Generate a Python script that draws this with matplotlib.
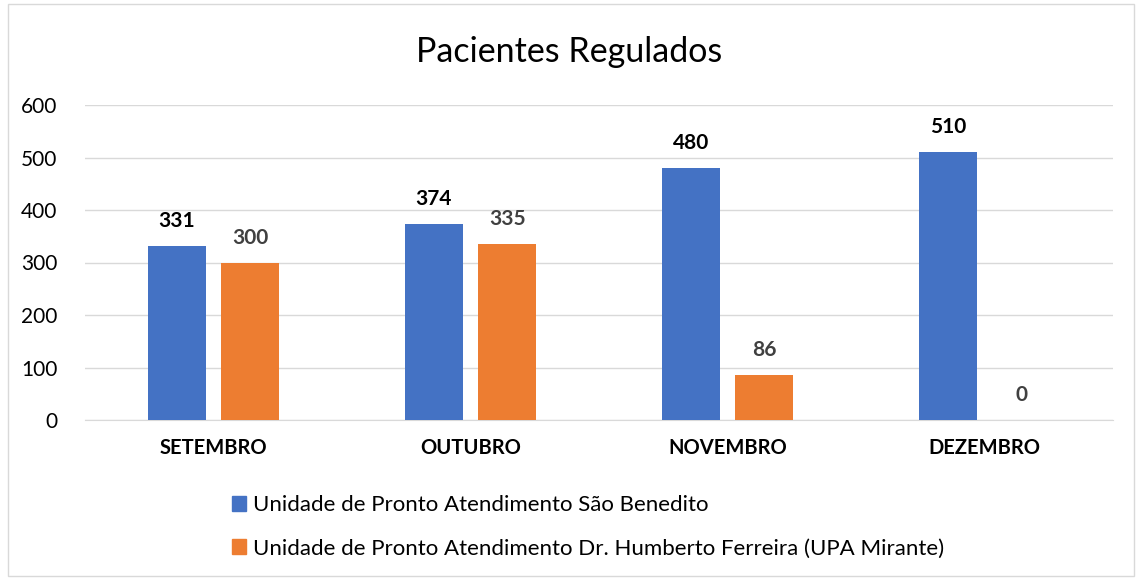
import matplotlib
matplotlib.use('Agg')
import matplotlib.pyplot as plt
import numpy as np
from matplotlib.patches import Patch, Rectangle

plt.rcParams['font.family'] = ['Lato', 'DejaVu Sans']

# 数据
meses = ['SETEMBRO', 'OUTUBRO', 'NOVEMBRO', 'DEZEMBRO']
sao_benedito = [331, 374, 480, 510]
upa_mirante = [300, 335, 86, 0]
series_nomes = ['Unidade de Pronto Atendimento São Benedito',
                'Unidade de Pronto Atendimento Dr. Humberto Ferreira (UPA Mirante)']
yticks = [0, 100, 200, 300, 400, 500, 600]

AZUL = '#4472C4'
LARANJA = '#ED7D31'

fig = plt.figure(figsize=(11.38, 5.80), dpi=100)
ax = fig.add_axes([85 / 1138, 1 - 420 / 580, 1028 / 1138, 315 / 580])

x = np.arange(len(meses))
w = 0.225
off = 0.143
b1 = ax.bar(x - off, sao_benedito, w, color=AZUL, zorder=3)
b2 = ax.bar(x + off, upa_mirante, w, color=LARANJA, zorder=3)

for rect, v in zip(b1, sao_benedito):
    ax.annotate(str(v), (rect.get_x() + rect.get_width() / 2, v), xytext=(0, 18),
                textcoords='offset points', ha='center', va='center',
                fontsize=15, fontweight='bold', color='black')
for rect, v in zip(b2, upa_mirante):
    ax.annotate(str(v), (rect.get_x() + rect.get_width() / 2, v), xytext=(0, 18),
                textcoords='offset points', ha='center', va='center',
                fontsize=15, fontweight='bold', color='#404040')

ax.set_xlim(-0.5, 3.5)
ax.set_ylim(0, 600)
ax.set_yticks(yticks)
ax.set_yticklabels([str(t) for t in yticks], fontsize=15)
ax.set_xticks(x)
ax.set_xticklabels(meses, fontsize=14.5, fontweight='bold')
ax.tick_params(axis='both', length=0)
ax.tick_params(axis='y', pad=20)
ax.tick_params(axis='x', pad=13)
ax.grid(axis='y', color='#D9D9D9', linewidth=1, zorder=0)
for s in ['top', 'right', 'left']:
    ax.spines[s].set_visible(False)
ax.spines['bottom'].set_color('#D9D9D9')

fig.text(0.5, 1 - 52 / 580, 'Pacientes Regulados', ha='center', va='center', fontsize=24.5)

handles = [Patch(color=AZUL), Patch(color=LARANJA)]
fig.legend(handles, series_nomes, loc='center left',
           bbox_to_anchor=(212 / 1138, 1 - 527 / 580), frameon=False,
           fontsize=16, handlelength=0.65, handleheight=0.65, handletextpad=0.3,
           labelspacing=1.05)

# 外框
fig.patches.append(Rectangle((8 / 1138, 4 / 580), 1126 / 1138, 572 / 580,
                             transform=fig.transFigure, fill=False,
                             edgecolor='#D9D9D9', linewidth=1))

plt.savefig('out.png', dpi=100)
